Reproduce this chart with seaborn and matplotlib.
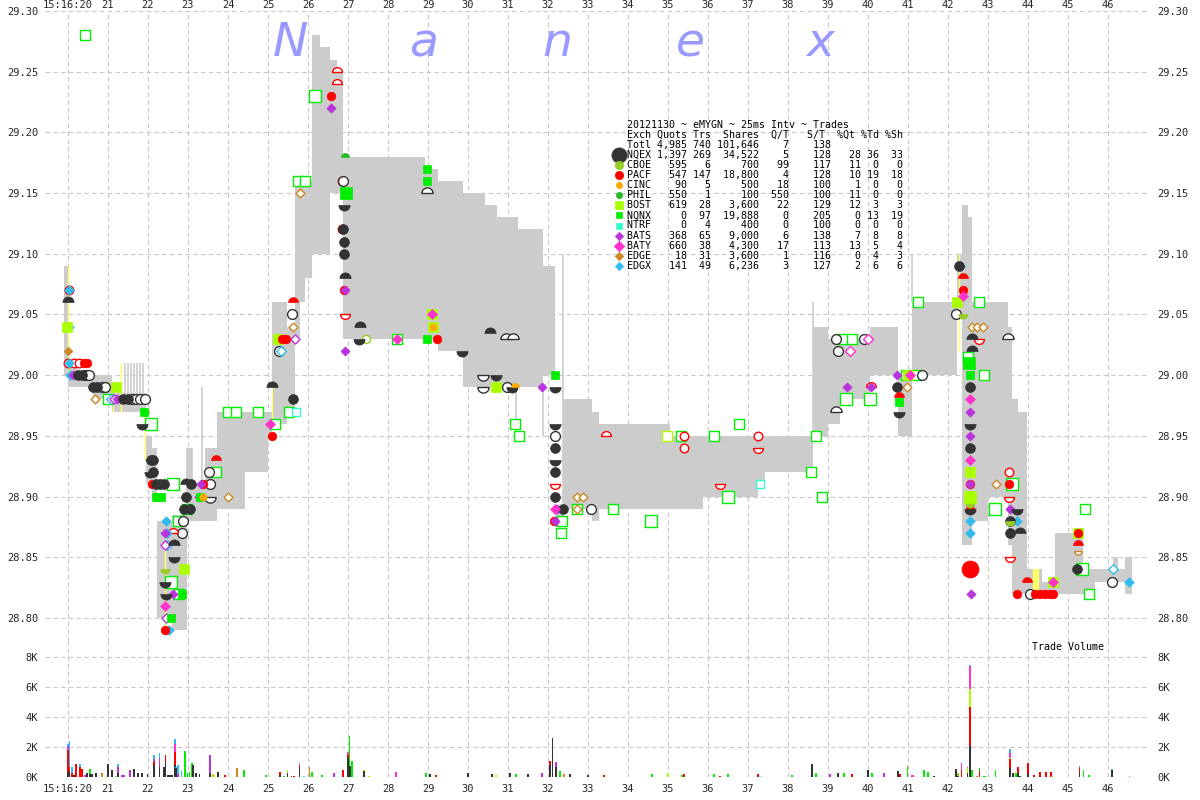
import numpy as np
import matplotlib
matplotlib.use('Agg')
import matplotlib.pyplot as plt
from matplotlib.path import Path
import seaborn as sns

# ---- NBBO spread (step, post): start second, bid, ask ----
spread_t = [19.90, 20.00, 20.25, 20.62, 21.10, 21.95, 22.10, 22.23, 22.60, 22.97,
            23.10, 23.42, 23.72, 24.42, 25.00, 25.10, 25.48, 25.68, 25.80, 25.93,
            26.10, 26.30, 26.55, 26.72, 26.88, 28.93, 29.25, 29.88, 30.43, 30.73,
            31.25, 31.88, 32.18, 32.38, 33.10, 33.28, 35.05, 35.88, 37.25, 37.43,
            38.63, 39.00, 39.30, 40.05, 40.75, 41.10, 42.23, 42.35, 42.50, 42.60,
            43.00, 43.50, 43.60, 43.75, 43.98, 44.35, 44.68, 45.38, 45.68, 46.13,
            46.25, 46.43, 46.60]
spread_bid = [29.00, 28.99, 28.99, 28.98, 28.97, 28.91, 28.90, 28.80, 28.79, 28.88,
              28.88, 28.88, 28.89, 28.92, 28.95, 28.96, 28.97, 29.03, 29.06, 29.08,
              29.10, 29.10, 29.15, 29.15, 29.03, 29.03, 29.02, 28.99, 28.99, 28.99,
              28.99, 29.00, 28.875, 28.89, 28.88, 28.89, 28.89, 28.90, 28.91, 28.92,
              28.95, 28.96, 28.98, 29.00, 28.95, 29.00, 29.05, 28.86, 28.86, 28.88,
              28.90, 28.86, 28.82, 28.82, 28.82, 28.82, 28.82, 28.82, 28.83, 28.83,
              28.83, 28.82, 28.82]
spread_ask = [29.09, 29.01, 29.00, 29.00, 28.985, 28.95, 28.94, 28.88, 28.885, 28.94,
              28.91, 28.94, 28.97, 28.97, 28.97, 29.06, 29.04, 29.16, 29.16, 29.16,
              29.28, 29.27, 29.26, 29.25, 29.18, 29.17, 29.16, 29.15, 29.14, 29.13,
              29.12, 29.09, 28.89, 28.98, 28.97, 28.96, 28.95, 28.95, 28.95, 28.95,
              29.04, 29.03, 29.03, 29.04, 29.00, 29.06, 29.10, 29.14, 29.13, 29.06,
              29.06, 29.04, 28.98, 28.97, 28.84, 28.83, 28.87, 28.84, 28.84, 28.85,
              28.84, 28.85, 28.85]

# thin quote spikes: second, low, high
spike_t = [21.43, 21.50, 21.58, 21.65, 21.73, 21.80, 21.88, 22.98, 23.10, 23.35,
           26.22, 31.20, 31.88, 32.38, 38.62, 41.10, 43.62]
spike_lo = [28.98, 28.98, 28.98, 28.98, 28.98, 28.98, 28.98, 28.89, 28.88, 28.88,
            29.16, 28.96, 28.95, 28.88, 28.95, 29.06, 28.82]
spike_hi = [29.01, 29.01, 29.01, 29.01, 29.01, 29.01, 29.01, 28.94, 28.94, 28.99,
            29.28, 28.99, 28.99, 29.10, 29.06, 29.10, 28.90]

# yellow (locked) quote lines: second, low, high
lock_t = [20.0, 21.12, 21.33, 21.93, 22.43, 25.10, 42.28]
lock_lo = [29.00, 28.97, 28.97, 28.93, 28.79, 28.96, 29.02]
lock_hi = [29.09, 28.98, 29.01, 28.97, 28.86, 28.99, 29.10]
lock_bar_t = [44.20]
lock_bar_lo = [28.82]
lock_bar_hi = [28.84]

# ---- trades: second, price, exchange, marker kind ----
trades = [
    (20.43, 29.28, 'NQNX', 'hollow'), (20.03, 29.07, 'PACF', 'hollow'), (20.03, 29.07, 'EDGX', 'full'),
    (20.00, 29.06, 'NQEX', 'dome'), (19.98, 29.04, 'BOST', 'full'), (20.03, 29.04, 'EDGX', 'full'),
    (20.00, 29.02, 'EDGE', 'full'), (20.00, 29.01, 'PACF', 'hollow'), (20.03, 29.01, 'EDGX', 'full'),
    (20.15, 29.01, 'PACF', 'hollow'), (20.28, 29.01, 'PACF', 'hollow'), (20.40, 29.01, 'PACF', 'full'),
    (20.48, 29.01, 'PACF', 'full'), (20.05, 29.00, 'EDGX', 'full'), (20.13, 29.00, 'BATS', 'full'),
    (20.25, 29.00, 'NQEX', 'full'), (20.35, 29.00, 'NQEX', 'full'), (20.43, 29.00, 'NQEX', 'hollow'),
    (20.53, 29.00, 'NQEX', 'hollow'), (20.63, 28.99, 'NQEX', 'full'), (20.72, 28.99, 'NQEX', 'full'),
    (20.85, 28.99, 'NQEX', 'hollow'), (20.93, 28.99, 'NQEX', 'hollow'), (21.20, 28.99, 'BOST', 'full'),
    (20.68, 28.98, 'EDGE', 'hollow'), (21.00, 28.98, 'NQNX', 'hollow'), (21.08, 28.98, 'EDGX', 'hollow'),
    (21.15, 28.98, 'BATS', 'hollow'), (21.22, 28.98, 'BATS', 'full'), (21.38, 28.98, 'NQEX', 'full'),
    (21.50, 28.98, 'NQEX', 'full'), (21.60, 28.98, 'NQEX', 'hollow'), (21.70, 28.98, 'NQEX', 'hollow'),
    (21.80, 28.98, 'NQEX', 'hollow'), (21.92, 28.98, 'NQEX', 'hollow'), (21.90, 28.97, 'NQNX', 'full'),
    (21.93, 28.97, 'EDGE', 'full'), (21.85, 28.96, 'NQEX', 'bowl'), (22.08, 28.96, 'NQNX', 'hollowL'),
    (22.05, 28.93, 'EDGX', 'full'), (22.08, 28.93, 'NQEX', 'full'), (22.12, 28.93, 'NQEX', 'full'),
    (22.05, 28.92, 'NQEX', 'bowl'), (22.12, 28.92, 'NQEX', 'full'), (22.10, 28.91, 'PACF', 'full'),
    (22.20, 28.91, 'NQEX', 'full'), (22.30, 28.91, 'NQEX', 'full'), (22.40, 28.91, 'NQEX', 'full'),
    (22.63, 28.91, 'NQNX', 'hollowL'), (22.95, 28.91, 'NQEX', 'dome'), (23.08, 28.91, 'NQEX', 'full'),
    (23.33, 28.91, 'BATS', 'full'), (23.38, 28.91, 'PACF', 'full'), (23.55, 28.91, 'NQEX', 'hollow'),
    (22.20, 28.90, 'NQNX', 'full'), (22.33, 28.90, 'NQNX', 'full'), (22.95, 28.90, 'NQEX', 'full'),
    (23.28, 28.90, 'BATS', 'full'), (23.30, 28.90, 'NQNX', 'full'), (23.38, 28.90, 'CINC', 'full'),
    (23.55, 28.90, 'NQEX', 'hbowl'), (24.00, 28.90, 'EDGE', 'hollow'), (22.90, 28.89, 'NQEX', 'full'),
    (23.05, 28.89, 'NQEX', 'full'), (22.98, 28.89, 'NQNX', 'hollow'), (22.45, 28.88, 'EDGX', 'full'),
    (22.75, 28.88, 'NQNX', 'hollow'), (22.88, 28.88, 'NQEX', 'hollow'), (22.42, 28.87, 'BATS', 'full'),
    (22.47, 28.87, 'EDGX', 'full'), (22.63, 28.87, 'PACF', 'hdome'), (22.85, 28.87, 'NQEX', 'hollow'),
    (22.42, 28.86, 'BATS', 'hollow'), (22.48, 28.86, 'EDGX', 'hollow'), (22.65, 28.86, 'NQEX', 'dome'),
    (22.65, 28.85, 'NQEX', 'bowl'), (22.43, 28.84, 'CBOE', 'bowl'), (22.90, 28.84, 'BOST', 'full'),
    (22.43, 28.83, 'NQEX', 'bowl'), (22.58, 28.83, 'NQNX', 'hollowL'), (22.45, 28.82, 'NQEX', 'bowl'),
    (22.63, 28.82, 'BATS', 'full'), (22.78, 28.82, 'NQNX', 'hollow'), (22.85, 28.82, 'NQNX', 'full'),
    (22.43, 28.81, 'BATY', 'full'), (22.45, 28.80, 'BATS', 'hollow'), (22.58, 28.80, 'NQNX', 'full'),
    (22.43, 28.79, 'PACF', 'full'), (22.52, 28.79, 'EDGX', 'full'), (23.70, 28.93, 'PACF', 'dome'),
    (23.53, 28.92, 'NQEX', 'hollow'), (23.70, 28.92, 'NQNX', 'hollow'), (24.00, 28.97, 'NQNX', 'hollow'),
    (24.20, 28.97, 'NQNX', 'hollow'), (24.75, 28.97, 'NQNX', 'hollow'), (25.10, 28.99, 'NQEX', 'dome'),
    (25.05, 28.96, 'BATY', 'full'), (25.18, 28.96, 'NQNX', 'hollow'), (25.10, 28.95, 'PACF', 'full'),
    (25.63, 28.98, 'NQEX', 'full'), (25.53, 28.97, 'NQNX', 'hollow'), (25.70, 28.97, 'NTRF', 'hollow'),
    (25.28, 29.02, 'NQEX', 'hollow'), (25.33, 29.02, 'EDGX', 'hollow'), (25.25, 29.03, 'BOST', 'full'),
    (25.30, 29.03, 'EDGE', 'hollow'), (25.35, 29.03, 'PACF', 'full'), (25.45, 29.03, 'PACF', 'full'),
    (25.68, 29.03, 'BATS', 'hollow'), (25.63, 29.04, 'EDGE', 'hollow'), (25.60, 29.05, 'NQEX', 'hollow'),
    (25.63, 29.06, 'PACF', 'dome'), (25.75, 29.16, 'NQNX', 'hollow'), (25.93, 29.16, 'NQNX', 'hollow'),
    (25.80, 29.15, 'EDGE', 'hollow'), (26.18, 29.23, 'NQNX', 'hollowL'), (26.73, 29.25, 'PACF', 'hdome'),
    (26.73, 29.24, 'PACF', 'hdome'), (26.58, 29.23, 'PACF', 'full'), (26.58, 29.22, 'BATS', 'full'),
    (26.93, 29.18, 'PHIL', 'dome'), (26.86, 29.16, 'PACF', 'hollow'), (26.88, 29.16, 'NQEX', 'hollow'),
    (26.95, 29.15, 'NQNX', 'fullL'), (26.90, 29.14, 'NQEX', 'bowl'), (26.86, 29.12, 'PACF', 'hollow'),
    (26.88, 29.12, 'NQEX', 'full'), (26.90, 29.11, 'NQEX', 'full'), (26.90, 29.10, 'NQEX', 'full'),
    (26.93, 29.08, 'NQEX', 'dome'), (26.90, 29.07, 'PACF', 'full'), (26.93, 29.07, 'BATS', 'full'),
    (26.93, 29.05, 'PACF', 'hbowl'), (27.30, 29.04, 'NQEX', 'dome'), (27.28, 29.03, 'NQEX', 'bowl'),
    (27.45, 29.03, 'CBOE', 'hollow'), (26.93, 29.02, 'BATS', 'full'), (28.23, 29.03, 'NQNX', 'hollow'),
    (28.23, 29.03, 'BATY', 'full'), (28.98, 29.17, 'NQNX', 'full'), (28.98, 29.16, 'NQNX', 'full'),
    (28.98, 29.15, 'NQEX', 'hdome'), (29.10, 29.05, 'BOST', 'full'), (29.10, 29.05, 'BATY', 'full'),
    (29.13, 29.04, 'BOST', 'full'), (29.13, 29.04, 'CINC', 'full'), (28.98, 29.03, 'NQNX', 'full'),
    (29.23, 29.03, 'PACF', 'full'), (29.85, 29.02, 'NQEX', 'bowl'), (30.55, 29.035, 'NQEX', 'dome'),
    (30.95, 29.03, 'NQEX', 'hdome'), (31.13, 29.03, 'NQEX', 'hdome'), (30.38, 29.00, 'NQEX', 'hbowl'),
    (30.70, 29.00, 'NQEX', 'bowl'), (30.38, 28.99, 'NQEX', 'hbowl'), (30.70, 28.99, 'BOST', 'full'),
    (30.98, 28.99, 'NQEX', 'hollow'), (31.10, 28.99, 'NQEX', 'bowl'), (31.18, 28.99, 'CINC', 'dome'),
    (31.85, 28.99, 'BATS', 'full'), (31.18, 28.96, 'NQNX', 'hollow'), (31.28, 28.95, 'NQNX', 'hollow'),
    (32.18, 29.00, 'NQNX', 'full'), (32.18, 28.99, 'NQEX', 'bowl'), (32.18, 28.96, 'NQEX', 'bowl'),
    (32.18, 28.95, 'NQEX', 'hollow'), (32.18, 28.94, 'NQEX', 'full'), (32.18, 28.93, 'NQEX', 'bowl'),
    (32.18, 28.92, 'NQEX', 'full'), (32.18, 28.91, 'PACF', 'hbowl'), (32.18, 28.90, 'NQEX', 'full'),
    (32.18, 28.89, 'BATY', 'full'), (32.22, 28.89, 'BATS', 'full'), (32.38, 28.89, 'NQEX', 'full'),
    (32.35, 28.88, 'NQNX', 'hollow'), (32.15, 28.88, 'PACF', 'full'), (32.18, 28.88, 'BATS', 'full'),
    (32.33, 28.87, 'NQNX', 'hollow'), (32.73, 28.90, 'EDGE', 'hollow'), (32.88, 28.90, 'EDGE', 'hollow'),
    (32.73, 28.89, 'NQNX', 'hollow'), (32.73, 28.89, 'EDGE', 'hollow'), (33.08, 28.89, 'NQEX', 'hollow'),
    (33.63, 28.89, 'NQNX', 'hollow'), (33.45, 28.95, 'PACF', 'hdome'), (34.98, 28.95, 'BOST', 'hollow'),
    (35.33, 28.95, 'NQNX', 'hollow'), (35.40, 28.95, 'PACF', 'hollow'), (35.40, 28.94, 'PACF', 'hollow'),
    (36.15, 28.95, 'NQNX', 'hollow'), (36.78, 28.96, 'NQNX', 'hollow'), (37.25, 28.95, 'PACF', 'hollow'),
    (37.25, 28.94, 'PACF', 'hbowl'), (36.30, 28.91, 'PACF', 'hbowl'), (36.50, 28.90, 'NQNX', 'hollowL'),
    (37.30, 28.91, 'NTRF', 'hollow'), (38.58, 28.92, 'NQNX', 'hollow'), (38.70, 28.95, 'NQNX', 'hollow'),
    (34.58, 28.88, 'NQNX', 'hollowL'), (38.85, 28.90, 'NQNX', 'hollow'), (39.20, 29.03, 'NQEX', 'hollow'),
    (39.38, 29.03, 'NQNX', 'hollow'), (39.60, 29.03, 'NQNX', 'hollow'), (39.90, 29.03, 'NQEX', 'hollow'),
    (40.00, 29.03, 'BATY', 'hollow'), (39.25, 29.02, 'NQEX', 'hollow'), (39.55, 29.02, 'BATY', 'hollow'),
    (41.25, 29.06, 'NQNX', 'hollow'), (40.73, 29.00, 'BATS', 'full'), (40.95, 29.00, 'NQNX', 'hollow'),
    (41.00, 29.00, 'BOST', 'full'), (41.05, 29.00, 'BATY', 'full'), (41.20, 29.00, 'NQNX', 'hollow'),
    (41.35, 29.00, 'NQEX', 'hollow'), (39.48, 28.99, 'BATS', 'full'), (40.08, 28.99, 'PACF', 'hdome'),
    (40.08, 28.99, 'BATS', 'full'), (39.45, 28.98, 'NQNX', 'hollowL'), (40.05, 28.98, 'NQNX', 'hollowL'),
    (40.73, 28.99, 'NQEX', 'full'), (40.98, 28.99, 'EDGE', 'hollow'), (40.78, 28.978, 'NQNX', 'full'),
    (40.78, 28.982, 'PACF', 'dome'), (40.78, 28.97, 'NQEX', 'bowl'), (39.20, 28.97, 'NQEX', 'hdome'),
    (42.28, 29.09, 'NQEX', 'full'), (42.30, 29.09, 'EDGX', 'hollow'), (42.38, 29.08, 'PACF', 'dome'),
    (42.38, 29.07, 'PACF', 'full'), (42.38, 29.065, 'BATY', 'full'), (42.23, 29.06, 'BOST', 'full'),
    (42.78, 29.06, 'NQNX', 'hollow'), (42.20, 29.05, 'NQEX', 'hollow'), (42.38, 29.05, 'CBOE', 'bowl'),
    (42.60, 29.04, 'EDGE', 'hollow'), (42.73, 29.04, 'EDGE', 'hollow'), (42.88, 29.04, 'EDGE', 'hollow'),
    (42.60, 29.03, 'NQEX', 'dome'), (42.78, 29.03, 'PACF', 'hbowl'), (43.50, 29.03, 'NQEX', 'hdome'),
    (42.60, 29.02, 'NQEX', 'dome'), (42.50, 29.015, 'NQNX', 'hollow'), (42.53, 29.01, 'NQNX', 'fullL'),
    (42.55, 29.00, 'NQNX', 'full'), (42.90, 29.00, 'NQNX', 'hollow'), (42.55, 28.99, 'NQEX', 'full'),
    (42.55, 28.98, 'BATY', 'full'), (42.55, 28.97, 'BATS', 'full'), (42.55, 28.96, 'NQEX', 'bowl'),
    (42.55, 28.95, 'BATS', 'full'), (42.55, 28.94, 'NQEX', 'full'), (42.55, 28.93, 'BATY', 'full'),
    (42.55, 28.92, 'BOST', 'full'), (42.55, 28.91, 'PACF', 'full'), (42.55, 28.91, 'BATS', 'full'),
    (43.20, 28.91, 'EDGE', 'hollow'), (43.53, 28.91, 'PACF', 'full'), (43.60, 28.91, 'NQNX', 'hollowL'),
    (42.55, 28.90, 'BOST', 'fullL'), (42.55, 28.90, 'NQEX', 'dome'), (42.55, 28.895, 'CBOE', 'bowl'),
    (43.53, 28.90, 'PACF', 'hbowl'), (42.55, 28.89, 'NQEX', 'bowl'), (42.55, 28.89, 'PACF', 'full'),
    (43.18, 28.89, 'NQNX', 'hollowL'), (43.55, 28.89, 'BATS', 'full'), (43.73, 28.89, 'NQEX', 'bowl'),
    (43.53, 28.92, 'PACF', 'hollow'), (42.55, 28.88, 'EDGX', 'full'), (43.55, 28.88, 'NQEX', 'full'),
    (43.55, 28.88, 'CBOE', 'bowl'), (43.73, 28.88, 'EDGX', 'full'), (42.55, 28.87, 'EDGX', 'full'),
    (43.55, 28.87, 'NQEX', 'full'), (43.57, 28.87, 'EDGX', 'full'), (43.80, 28.87, 'NQEX', 'dome'),
    (43.55, 28.85, 'PACF', 'hbowl'), (42.55, 28.84, 'PACF', 'fullXL'), (42.58, 28.82, 'BATS', 'full'),
    (43.98, 28.83, 'PACF', 'dome'), (43.73, 28.82, 'PACF', 'full'), (44.05, 28.82, 'NQEX', 'hollow'),
    (44.18, 28.82, 'PACF', 'full'), (44.30, 28.82, 'PACF', 'full'), (44.43, 28.82, 'PACF', 'full'),
    (44.55, 28.82, 'PACF', 'full'), (44.63, 28.82, 'PACF', 'full'), (44.63, 28.83, 'BOST', 'full'),
    (44.63, 28.83, 'BATY', 'full'), (45.43, 28.89, 'NQNX', 'hollow'), (45.25, 28.87, 'BOST', 'full'),
    (45.25, 28.87, 'PACF', 'full'), (45.25, 28.86, 'PACF', 'dome'), (45.25, 28.855, 'EDGE', 'hbowl'),
    (45.23, 28.84, 'NQEX', 'full'), (45.35, 28.84, 'NQNX', 'hollowL'), (45.53, 28.82, 'NQNX', 'hollow'),
    (46.13, 28.84, 'EDGX', 'hollow'), (46.10, 28.83, 'NQEX', 'hollow'), (46.53, 28.83, 'EDGX', 'full'),
]

# ---- trade volume: second, exchange, shares (stacked in list order) ----
volume = [
    (20.00, 'NQEX', 400), (20.00, 'PACF', 1400), (20.00, 'BATY', 200), (20.00, 'BATS', 100), (20.00, 'EDGX', 100),
    (20.04, 'NQEX', 300), (20.04, 'PACF', 400), (20.04, 'EDGX', 1700), (20.10, 'PACF', 300), (20.10, 'EDGX', 350),
    (20.15, 'NQEX', 150), (20.20, 'PACF', 900), (20.30, 'PACF', 700), (20.30, 'EDGX', 200), (20.35, 'PACF', 550),
    (20.42, 'BATS', 150), (20.47, 'NQEX', 250), (20.55, 'NQEX', 200), (20.55, 'NQNX', 350), (20.60, 'NQEX', 200),
    (20.70, 'NQEX', 250), (20.85, 'EDGE', 250), (21.00, 'NQEX', 850), (21.10, 'NQEX', 500), (21.18, 'NQNX', 100),
    (21.25, 'NQEX', 300), (21.25, 'BATS', 400), (21.25, 'EDGX', 200), (21.35, 'BATS', 150), (21.40, 'BATS', 150),
    (21.55, 'BATS', 450), (21.65, 'NQEX', 550), (21.75, 'NQEX', 300), (21.85, 'NQEX', 300), (21.98, 'NQEX', 200),
    (22.15, 'NQEX', 800), (22.15, 'PACF', 200), (22.15, 'BATS', 200), (22.15, 'EDGX', 300),
    (22.28, 'NQEX', 650), (22.28, 'BATS', 600), (22.28, 'EDGX', 350), (22.40, 'NQEX', 650),
    (22.43, 'NQEX', 1000), (22.43, 'PACF', 450), (22.50, 'NQEX', 150), (22.55, 'NQEX', 150), (22.60, 'NQEX', 150),
    (22.67, 'NQEX', 800), (22.67, 'PACF', 900), (22.67, 'BATY', 500), (22.67, 'EDGX', 350),
    (22.70, 'NQEX', 600), (22.70, 'EDGX', 100), (22.75, 'BATS', 200), (22.75, 'EDGX', 600), (22.83, 'EDGX', 400),
    (22.92, 'NQNX', 1750), (22.98, 'NQNX', 300), (23.03, 'NQNX', 350), (23.10, 'NQNX', 950), (23.13, 'NQEX', 800),
    (23.20, 'NQEX', 300), (23.28, 'NQEX', 200), (23.55, 'NQEX', 300), (23.55, 'BATS', 1150), (23.62, 'CINC', 200),
    (23.65, 'BOST', 150), (23.75, 'NQEX', 350), (23.92, 'PACF', 150), (24.22, 'EDGE', 600), (24.40, 'NQNX', 500),
    (24.95, 'NQNX', 150), (25.30, 'NQEX', 150), (25.30, 'PACF', 200), (25.40, 'NQNX', 100), (25.48, 'NQEX', 300),
    (25.48, 'BOST', 150), (25.58, 'PACF', 100), (25.65, 'PACF', 100), (25.78, 'NQEX', 600), (25.78, 'PACF', 150),
    (25.78, 'BATS', 80), (25.78, 'EDGE', 100), (25.90, 'NTRF', 100), (26.03, 'EDGE', 700), (26.10, 'NQNX', 350),
    (26.35, 'NQNX', 150), (26.65, 'BATS', 300), (26.88, 'PACF', 450), (27.00, 'NQEX', 1300), (27.00, 'PACF', 200),
    (27.00, 'BATY', 200), (27.03, 'NQEX', 600), (27.03, 'NQNX', 2150), (27.05, 'NQEX', 750), (27.10, 'NQNX', 1050),
    (27.40, 'NQEX', 400), (27.40, 'BOST', 100), (27.52, 'BOST', 100), (28.20, 'BATY', 350), (28.95, 'NQNX', 300),
    (29.05, 'NQEX', 200), (29.20, 'PACF', 150), (30.00, 'NQEX', 300), (30.60, 'NQEX', 200), (30.70, 'BOST', 150),
    (31.05, 'NQEX', 300), (31.20, 'NQNX', 200), (31.50, 'NQEX', 200), (31.85, 'BATS', 300), (32.05, 'NQEX', 800),
    (32.05, 'PACF', 300), (32.12, 'NQEX', 2600), (32.20, 'NQEX', 700), (32.20, 'BATS', 300), (32.30, 'NQNX', 400),
    (32.40, 'EDGE', 200), (32.55, 'NQEX', 200), (33.00, 'NQEX', 150), (33.40, 'PACF', 150), (34.60, 'NQNX', 200),
    (35.00, 'BOST', 300), (35.35, 'NQNX', 150), (35.40, 'PACF', 200), (36.15, 'NQNX', 200), (36.30, 'PACF', 100),
    (36.50, 'NQNX', 200), (37.25, 'PACF', 200), (37.30, 'NTRF', 100), (38.10, 'NQNX', 150), (38.60, 'NQEX', 900),
    (38.70, 'NQNX', 300), (39.05, 'BATS', 200), (39.25, 'NQEX', 300), (39.40, 'NQNX', 250), (39.60, 'PACF', 200),
    (40.00, 'NQEX', 500), (40.10, 'NQNX', 300), (40.40, 'BATS', 300), (40.75, 'NQEX', 400), (40.80, 'PACF', 200),
    (40.98, 'NQNX', 600), (40.98, 'EDGE', 150), (41.10, 'BATY', 150), (41.13, 'BATY', 150), (41.40, 'NQNX', 500),
    (41.50, 'NQNX', 350), (41.65, 'NQEX', 100), (42.20, 'NQEX', 550), (42.25, 'NQEX', 100), (42.25, 'CBOE', 200),
    (42.33, 'PACF', 500), (42.33, 'BATY', 450), (42.48, 'NQEX', 300), (42.48, 'BOST', 300), (42.48, 'BATY', 100),
    (42.55, 'NQEX', 2100), (42.55, 'PACF', 2600), (42.55, 'BOST', 1200), (42.55, 'BATY', 1500), (42.55, 'EDGX', 100),
    (42.58, 'NQEX', 300), (42.60, 'NQNX', 500), (42.72, 'EDGE', 100), (42.78, 'PACF', 400), (42.78, 'NQNX', 200),
    (42.90, 'NQNX', 100), (42.93, 'NQNX', 100), (43.18, 'NQNX', 500), (43.55, 'NQEX', 600), (43.55, 'PACF', 600),
    (43.55, 'BOST', 100), (43.55, 'BATY', 300), (43.55, 'EDGX', 300), (43.62, 'NQEX', 300), (43.70, 'NQNX', 300),
    (43.75, 'NQEX', 300), (43.75, 'PACF', 350), (43.75, 'EDGX', 50), (43.80, 'NQEX', 100), (44.00, 'NQEX', 200),
    (44.00, 'PACF', 750), (44.15, 'PACF', 150), (44.30, 'PACF', 350), (44.45, 'PACF', 350), (44.57, 'PACF', 350),
    (44.60, 'CINC', 100), (45.28, 'NQEX', 300), (45.28, 'PACF', 300), (45.28, 'BATY', 100), (45.28, 'EDGE', 50),
    (45.38, 'NQNX', 500), (45.52, 'NQNX', 150), (46.10, 'NQEX', 500), (46.10, 'EDGX', 50), (46.53, 'EDGX', 100),
]

# ---- summary table ----
exchanges = ['NQEX', 'CBOE', 'PACF', 'CINC', 'PHIL', 'BOST', 'NQNX', 'NTRF', 'BATS', 'BATY', 'EDGE', 'EDGX']
quots = ['1,397', '595', '547', '90', '550', '619', '0', '0', '368', '660', '18', '141']
trs = [269, 6, 147, 5, 1, 28, 97, 4, 65, 38, 31, 49]
shares = ['34,522', '700', '18,800', '500', '100', '3,600', '19,888', '400', '9,000', '4,300', '3,600', '6,236']
q_per_t = [5, 99, 4, 18, 550, 22, 0, 0, 6, 17, 1, 3]
s_per_t = [128, 117, 128, 100, 100, 129, 205, 100, 138, 113, 116, 127]
pct_qt = [28, 11, 10, 1, 11, 12, 0, 0, 7, 13, 0, 2]
pct_td = [36, 0, 19, 0, 0, 3, 13, 0, 8, 5, 4, 6]
pct_sh = [33, 0, 18, 0, 0, 3, 19, 0, 8, 4, 3, 6]
total_row = ('Totl', '4,985', 740, '101,646', 7, 138)

price_ticks = np.round(np.arange(28.80, 29.301, 0.05), 2)
second_ticks = list(range(20, 47))
vol_ticks = [0, 2000, 4000, 6000, 8000]

colors = {'NQEX': '#333333', 'CBOE': '#99cc22', 'PACF': '#ff0000', 'CINC': '#ffaa00',
          'PHIL': '#22bb22', 'BOST': '#aaff00', 'NQNX': '#00ee00', 'NTRF': '#33ffcc',
          'BATS': '#bb33dd', 'BATY': '#ff33cc', 'EDGE': '#cc8822', 'EDGX': '#33bbee'}
shape_of = {'NQEX': 'o', 'CBOE': 'o', 'PACF': 'o', 'CINC': 'o', 'PHIL': 'o',
            'BOST': 's', 'NQNX': 's', 'NTRF': 's',
            'BATS': 'D', 'BATY': 'D', 'EDGE': 'D', 'EDGX': 'D'}
size_of = {'NQEX': 50, 'CBOE': 34, 'PACF': 38, 'CINC': 26, 'PHIL': 26, 'BOST': 42,
           'NQNX': 30, 'NTRF': 30, 'BATS': 22, 'BATY': 26, 'EDGE': 20, 'EDGX': 24}
legend_size = {'NQEX': 120, 'CBOE': 36, 'PACF': 36, 'CINC': 20, 'PHIL': 20, 'BOST': 40,
               'NQNX': 22, 'NTRF': 22, 'BATS': 18, 'BATY': 28, 'EDGE': 18, 'EDGX': 18}

theta = np.linspace(0, np.pi, 25)
arc = np.column_stack([np.cos(theta), np.sin(theta)])
codes = [Path.MOVETO] + [Path.LINETO] * (len(arc) - 1) + [Path.CLOSEPOLY]
dome = Path(np.vstack([arc, arc[:1]]), codes)
bowl = Path(np.vstack([arc * [1, -1], arc[:1]]), codes)

sns.set_style('white')
plt.rcParams['font.family'] = ['DejaVu Sans Mono']
grid_kw = dict(color='#c8c8c8', linestyle=(0, (4, 3)), linewidth=0.8)


def draw_points(axis, ex, kind, xs, ys, z=4, size=None):
    marker = shape_of[ex]
    size = size or size_of[ex]
    face = colors[ex]
    lw = 0.5
    if kind in ('dome', 'hdome'):
        marker, size = dome, size * 1.3
    if kind in ('bowl', 'hbowl'):
        marker, size = bowl, size * 1.3
    if kind in ('hollow', 'hollowL', 'hdome', 'hbowl'):
        face, lw, z = 'white', 1.0, z - 1
    if kind == 'hollow' and ex == 'NQNX':
        size = 45
    if kind in ('hollowL', 'fullL'):
        size = 85
    if kind == 'fullXL':
        size = 150
    sns.scatterplot(x=xs, y=ys, ax=axis, marker=marker, s=size, color=face,
                    edgecolor=colors[ex], linewidth=lw, zorder=z, legend=False)


fig = plt.figure(figsize=(12, 8), dpi=100)
ax = fig.add_axes([45 / 1200, 159 / 800, 1105 / 1200, 630 / 800])
axv = fig.add_axes([45 / 1200, 23 / 800, 1105 / 1200, 136 / 800], sharex=ax)

# spread
st = np.array(spread_t)
ax.fill_between(st, spread_bid, spread_ask, step='post', color='#cccccc', lw=0, zorder=1)
ax.vlines(spike_t, spike_lo, spike_hi, color='#cccccc', lw=1.2, zorder=1)
ax.vlines(lock_t, lock_lo, lock_hi, color='#ffff66', lw=1.0, zorder=1.5)
ax.vlines(lock_bar_t, lock_bar_lo, lock_bar_hi, color='#ffff66', lw=4.5, zorder=1.5)

# trades grouped by exchange and marker kind
groups = {}
for t, p, ex, kind in trades:
    groups.setdefault((ex, kind), ([], []))
    groups[(ex, kind)][0].append(t)
    groups[(ex, kind)][1].append(p)
for (ex, kind), (xs, ys) in groups.items():
    draw_points(ax, ex, kind, xs, ys)

ax.set_xlim(19.425, 47.05)
ax.set_ylim(28.781, 29.30)
ax.set_yticks(price_ticks)
ax.set_yticklabels([f'{v:.2f}' for v in price_ticks])
ax.set_xticks(second_ticks)
ax.set_xticklabels(['15:16:20'] + [str(s) for s in second_ticks[1:]])
ax.xaxis.tick_top()
ax.tick_params(axis='x', length=0, pad=1, labelsize=7.5, top=True, bottom=False,
               labeltop=True, labelbottom=False)
ax.tick_params(axis='y', length=0, pad=5, labelsize=7.5, left=True, right=True,
               labelleft=True, labelright=True)
ax.grid(True, **grid_kw)
ax.set_axisbelow(True)
ax.set_xlabel('')
ax.set_ylabel('')

# volume bars
bottoms = {}
for t, ex, v in volume:
    b = bottoms.get(t, 0)
    axv.bar(t, v, bottom=b, width=0.035, color=colors[ex], lw=0, zorder=2)
    bottoms[t] = b + v
axv.set_ylim(0, 9067)
axv.set_yticks(vol_ticks)
axv.set_yticklabels([f'{v // 1000}K' for v in vol_ticks])
axv.tick_params(axis='x', length=0, pad=5, labelsize=7.5, labelbottom=True)
axv.tick_params(axis='y', length=0, pad=5, labelsize=7.5, left=True, right=True,
                labelleft=True, labelright=True)
axv.grid(True, **grid_kw)
axv.set_axisbelow(True)
axv.patch.set_alpha(0)

for a in (ax, axv):
    for sp in a.spines.values():
        sp.set_visible(False)

# overlay for watermark and legend table
ovl = fig.add_axes([0, 0, 1, 1], zorder=10)
ovl.patch.set_alpha(0)
ovl.axis('off')

for letter, xc in zip('Nanex', [290, 424, 557, 690, 820]):
    ovl.text(xc, 44, letter, ha='center', va='center', fontsize=34, style='italic',
             family='DejaVu Sans', color='#9999ff')

line_y = [125 + 10.05 * i for i in range(15)]
rows = ['20121130 ~ eMYGN ~ 25ms Intv ~ Trades',
        'Exch Quots Trs  Shares  Q/T   S/T  %Qt %Td %Sh',
        f'{total_row[0]:<4} {total_row[1]:>5} {total_row[2]:>3} {total_row[3]:>7}{total_row[4]:>5}{total_row[5]:>7}']
for i, ex in enumerate(exchanges):
    rows.append(f'{ex:<4} {quots[i]:>5} {trs[i]:>3} {shares[i]:>7}{q_per_t[i]:>5}{s_per_t[i]:>7}'
                f'{pct_qt[i]:>5}{pct_td[i]:>3}{pct_sh[i]:>4}')
for y, row in zip(line_y, rows):
    ovl.text(627, y, row, ha='left', va='center', fontsize=7.2, color='black')

for i, ex in enumerate(exchanges):
    draw_points(ovl, ex, 'full', [619], [line_y[3 + i]], z=12, size=legend_size[ex])

ovl.text(1032, 647, 'Trade Volume', ha='left', va='center', fontsize=7.2, color='black')
ovl.set_xlim(0, 1200)
ovl.set_ylim(800, 0)

fig.savefig('out.png', dpi=100, facecolor='white')
